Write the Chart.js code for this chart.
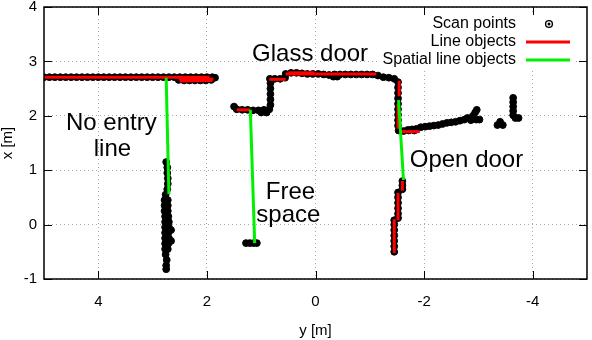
<!DOCTYPE html>
<html>
<head>
<meta charset="utf-8">
<script src="https://cdn.jsdelivr.net/npm/chart.js@4/dist/chart.umd.min.js"></script>
<style>
  html, body { margin: 0; padding: 0; background: #fff; }
  #wrap { width: 592px; height: 340px; }
</style>
</head>
<body>
<div id="wrap"><canvas id="scanChart" width="592" height="340"></canvas></div>
<script>
// y [m] runs along the horizontal axis (reversed), x [m] up the vertical one.
// every pair below is [y, x]
const xTicks = [4, 2, 0, -2, -4];
const yTicks = [-1, 0, 1, 2, 3, 4];

// Scan points
const scanWallLeft = [
    [5.0, 2.71], [4.9, 2.71], [4.8, 2.71], [4.7, 2.71], [4.6, 2.71], [4.5, 2.71], [4.4, 2.71], [4.3, 2.71],
    [4.2, 2.71], [4.1, 2.71], [4.0, 2.71], [3.9, 2.71], [3.8, 2.71], [3.7, 2.71], [3.6, 2.71], [3.5, 2.71],
    [3.4, 2.71], [3.3, 2.71], [3.2, 2.71], [3.1, 2.71], [3.0, 2.71], [2.9, 2.71], [2.8, 2.71], [2.7, 2.71],
    [2.6, 2.71], [2.5, 2.71], [2.4, 2.71], [2.3, 2.71], [2.2, 2.71], [2.1, 2.71], [2.0, 2.71], [1.9, 2.71],
    [1.85, 2.70], [2.52, 2.66], [2.42, 2.65], [2.32, 2.65], [2.22, 2.65], [2.12, 2.65], [2.02, 2.65], [1.92, 2.66]
];
const scanNoEntry = [
    [2.75, 1.15], [2.73, 1.05], [2.73, 0.95], [2.72, 0.85], [2.72, 0.75], [2.73, 0.65], [2.76, 0.55],
    [2.78, 0.45], [2.72, 0.45], [2.78, 0.35], [2.72, 0.35], [2.78, 0.25], [2.72, 0.25], [2.77, 0.15],
    [2.71, 0.15], [2.77, 0.05], [2.70, 0.05], [2.77, -0.05], [2.70, -0.05], [2.66, -0.10], [2.77, -0.15],
    [2.71, -0.15], [2.77, -0.25], [2.70, -0.25], [2.66, -0.30], [2.77, -0.35], [2.71, -0.35], [2.77, -0.45],
    [2.72, -0.45], [2.76, -0.55], [2.74, -0.65], [2.75, -0.75], [2.75, -0.82]
];
const scanGlassDoor = [
    [1.50, 2.17], [1.45, 2.12], [1.35, 2.11], [1.25, 2.11], [1.15, 2.10], [1.05, 2.10], [0.95, 2.11],
    [1.00, 2.06], [0.90, 2.06], [0.85, 2.12], [0.83, 2.20], [0.83, 2.30], [0.83, 2.40], [0.83, 2.50],
    [0.83, 2.60], [0.84, 2.68], [0.75, 2.68], [0.65, 2.68], [0.56, 2.70], [0.55, 2.77], [0.45, 2.79],
    [0.35, 2.79], [0.25, 2.78], [0.15, 2.77], [0.05, 2.77], [-0.05, 2.77], [-0.15, 2.76], [-0.25, 2.75],
    [-0.33, 2.72], [-0.40, 2.72], [-0.35, 2.76], [-0.45, 2.76], [-0.55, 2.76], [-0.65, 2.76], [-0.75, 2.76],
    [-0.85, 2.76], [-0.95, 2.76], [-1.05, 2.76], [-1.15, 2.74], [-1.25, 2.71], [-1.35, 2.70], [-1.45, 2.68],
    [-1.52, 2.62], [-1.52, 2.52], [-1.52, 2.42], [-1.52, 2.32], [-1.52, 2.22], [-1.52, 2.12], [-1.52, 2.02],
    [-1.52, 1.92], [-1.52, 1.82], [-1.53, 1.73], [-1.62, 1.72], [-1.72, 1.73], [-1.82, 1.73]
];
const scanCorridor = [
    [-1.70, 1.74], [-1.78, 1.75], [-1.86, 1.76], [-1.94, 1.79], [-2.02, 1.80], [-2.10, 1.81], [-2.18, 1.82],
    [-2.26, 1.83], [-2.34, 1.85], [-2.42, 1.87], [-2.50, 1.88], [-2.58, 1.89], [-2.66, 1.91], [-2.74, 1.93],
    [-2.80, 1.96], [-2.86, 1.92], [-2.90, 2.00], [-2.94, 2.06], [-2.97, 2.11], [-2.96, 1.93], [-3.02, 1.93],
    [-3.35, 1.83], [-3.45, 1.83], [-3.40, 1.89],
    [-3.64, 2.33], [-3.64, 2.25], [-3.64, 2.17], [-3.64, 2.09], [-3.64, 2.01], [-3.68, 1.96], [-3.74, 1.96]
];
const scanFreeSpace = [[1.28, -0.34], [1.21, -0.34], [1.14, -0.34], [1.08, -0.34]];
const scanOpenDoor = [
    [-1.60, 0.80], [-1.60, 0.72], [-1.60, 0.65],
    [-1.52, 0.59], [-1.52, 0.50], [-1.52, 0.40], [-1.52, 0.30], [-1.52, 0.20], [-1.52, 0.12],
    [-1.45, 0.08], [-1.45, 0.00], [-1.45, -0.10], [-1.45, -0.20], [-1.45, -0.30], [-1.45, -0.40], [-1.45, -0.50]
];

// Line objects (red), each one a [start, end] pair
const lineObjects = [
    [[5.0, 2.71], [1.95, 2.71]],
    [[2.52, 2.68], [1.88, 2.67]],
    [[2.50, 2.64], [1.90, 2.65]],
    [[1.45, 2.11], [1.20, 2.11]],
    [[0.85, 2.67], [0.55, 2.67]],
    [[0.55, 2.77], [-1.12, 2.77]],
    [[0.50, 2.79], [0.02, 2.79]],
    [[-1.54, 2.64], [-1.54, 2.36]],
    [[-1.52, 2.22], [-1.52, 1.76]],
    [[-1.55, 1.71], [-1.92, 1.71]],
    [[-1.60, 0.80], [-1.60, 0.62]],
    [[-1.52, 0.58], [-1.52, 0.08]],
    [[-1.45, 0.10], [-1.45, -0.52]]
];

// Spatial line objects (green)
const spatialLines = [
    [[2.75, 2.70], [2.70, 0.56]],
    [[1.20, 2.11], [1.12, -0.34]],
    [[-1.53, 2.29], [-1.62, 0.82]]
];

// text labels in the plot, [text, y, x] (x is the baseline)
const notes = [
    ['No entry', 3.76, 1.74],
    ['line', 3.74, 1.26],
    ['Glass door', 0.10, 3.01],
    ['Free', 0.46, 0.47],
    ['space', 0.50, 0.05],
    ['Open door', -2.78, 1.06]
];

const legendLabels = ['Scan points', 'Line objects', 'Spatial line objects'];

const FONT = '"Liberation Sans", Arial, sans-serif';
const RED = '#ff0000';
const GREEN = '#00f000';

const toXY = pts => pts.map(([x, y]) => ({ x, y }));

const allScans = [].concat(scanWallLeft, scanNoEntry, scanGlassDoor, scanCorridor, scanFreeSpace, scanOpenDoor);

const datasets = [{
    label: 'Scan points',
    data: toXY(allScans),
    pointRadius: 3.4,
    pointBackgroundColor: '#000',
    pointBorderColor: '#000',
    pointBorderWidth: 1,
    showLine: false,
    order: 3
}];
lineObjects.forEach(seg => datasets.push({
    label: 'Line objects',
    data: toXY(seg),
    showLine: true,
    borderColor: RED,
    borderWidth: 3,
    pointRadius: 0,
    order: 2
}));
spatialLines.forEach(seg => datasets.push({
    label: 'Spatial line objects',
    data: toXY(seg),
    showLine: true,
    borderColor: GREEN,
    borderWidth: 3,
    pointRadius: 0,
    order: 1
}));

// notes + white legend box + legend, then frame and inward ticks
const decorations = {
    id: 'decorations',
    afterDatasetsDraw(chart) {
        const ctx = chart.ctx;
        const a = chart.chartArea;
        const xs = chart.scales.x, ys = chart.scales.y;
        ctx.save();
        ctx.fillStyle = '#000';
        ctx.font = '24px ' + FONT;
        ctx.textAlign = 'center';
        ctx.textBaseline = 'alphabetic';
        notes.forEach(([t, x, y]) => ctx.fillText(t, xs.getPixelForValue(x), ys.getPixelForValue(y)));

        // legend
        ctx.fillStyle = '#fff';
        ctx.fillRect(a.right - 207, a.top + 7, 195, 54);
        ctx.font = '16px ' + FONT;
        ctx.textAlign = 'right';
        ctx.textBaseline = 'middle';
        legendLabels.forEach((label, i) => {
            const y = a.top + 17 + i * 18;
            ctx.fillStyle = '#000';
            ctx.fillText(label, a.right - 71, y);
            if (i === 0) {
                ctx.beginPath();
                ctx.arc(a.right - 38, y, 3.4, 0, Math.PI * 2);
                ctx.lineWidth = 1.4;
                ctx.strokeStyle = '#000';
                ctx.stroke();
                ctx.beginPath();
                ctx.arc(a.right - 38, y, 1.5, 0, Math.PI * 2);
                ctx.fill();
            } else {
                ctx.beginPath();
                ctx.moveTo(a.right - 61, y);
                ctx.lineTo(a.right - 17, y);
                ctx.lineWidth = 3;
                ctx.strokeStyle = i === 1 ? RED : GREEN;
                ctx.stroke();
            }
        });
        ctx.restore();
    },
    afterDraw(chart) {
        const ctx = chart.ctx;
        const a = chart.chartArea;
        const xs = chart.scales.x, ys = chart.scales.y;
        const tick = 8;
        ctx.save();
        ctx.strokeStyle = '#000';
        ctx.lineWidth = 1;
        ctx.beginPath();
        xTicks.forEach(v => {
            const px = Math.round(xs.getPixelForValue(v)) + 0.5;
            ctx.moveTo(px, a.bottom); ctx.lineTo(px, a.bottom - tick);
            ctx.moveTo(px, a.top); ctx.lineTo(px, a.top + tick);
        });
        yTicks.forEach(v => {
            const py = Math.round(ys.getPixelForValue(v)) + 0.5;
            ctx.moveTo(a.left, py); ctx.lineTo(a.left + tick, py);
            ctx.moveTo(a.right, py); ctx.lineTo(a.right - tick, py);
        });
        ctx.stroke();
        ctx.lineWidth = 1.5;
        ctx.strokeRect(a.left, a.top, a.right - a.left, a.bottom - a.top);
        ctx.restore();
    }
};

new Chart(document.getElementById('scanChart'), {
    type: 'scatter',
    data: { datasets },
    options: {
        responsive: false,
        animation: false,
        devicePixelRatio: 1,
        layout: { padding: { top: 7, right: 2, left: 0, bottom: 0 } },
        plugins: { legend: { display: false }, tooltip: { enabled: false } },
        scales: {
            x: {
                type: 'linear',
                reverse: true,
                min: -5,
                max: 5,
                afterBuildTicks: s => { s.ticks = xTicks.map(v => ({ value: v })); },
                afterFit: s => { s.height = 61; s.paddingLeft = 0; s.paddingRight = 0; },
                grid: { color: '#a8a8a8', lineWidth: 1, drawTicks: false },
                border: { display: false, dash: [1, 3] },
                ticks: { color: '#000', padding: 14, font: { family: FONT, size: 15 } },
                title: { display: true, text: 'y [m]', color: '#000', padding: 0, font: { family: FONT, size: 15 } }
            },
            y: {
                type: 'linear',
                min: -1,
                max: 4,
                afterBuildTicks: s => { s.ticks = yTicks.map(v => ({ value: v })); },
                afterFit: s => { s.width = 44; s.paddingTop = 0; s.paddingBottom = 0; },
                grid: { color: '#a8a8a8', lineWidth: 1, drawTicks: false },
                border: { display: false, dash: [1, 3] },
                ticks: { color: '#000', padding: 7, font: { family: FONT, size: 15 } },
                title: { display: true, text: 'x [m]', color: '#000', padding: 0, font: { family: FONT, size: 15, lineHeight: 1 } }
            }
        }
    },
    plugins: [decorations]
});
</script>
</body>
</html>
